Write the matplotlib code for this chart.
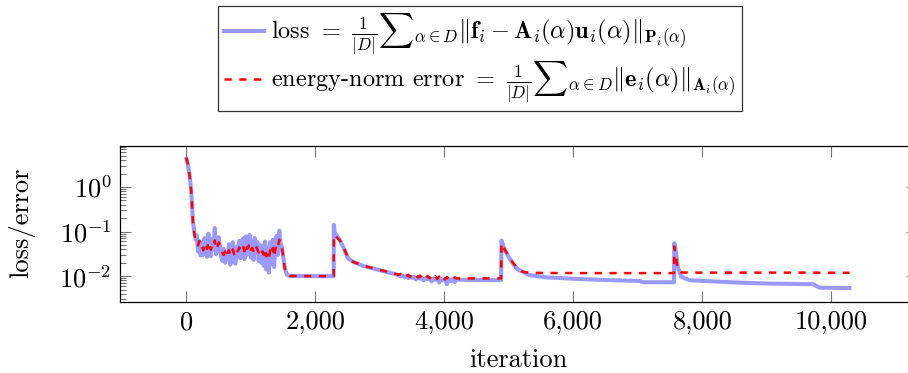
import matplotlib
matplotlib.use("Agg")
import matplotlib.pyplot as plt
from matplotlib.ticker import FixedLocator, FuncFormatter, LogLocator, NullFormatter

plt.rcParams['font.family'] = 'serif'
plt.rcParams['font.serif'] = ['cmr10']
plt.rcParams['mathtext.fontset'] = 'cm'
plt.rcParams['axes.formatter.use_mathtext'] = True
plt.rcParams['axes.unicode_minus'] = False

# training history
iters = [0, 25, 50, 75, 100, 125, 145,
         160, 180, 200, 220, 240, 260, 280, 300, 320, 340, 360, 380, 400, 420,
         440, 460, 480, 500, 520, 540, 560, 580, 600, 620, 640, 660, 680, 700,
         720, 740, 760, 780, 800, 820, 840, 860, 880, 900, 920, 940, 960, 980,
         1000, 1020, 1040, 1060, 1080, 1100, 1120, 1140, 1160, 1180, 1200, 1220,
         1240, 1260, 1280, 1300, 1320, 1340, 1360, 1380, 1400, 1420, 1440, 1460,
         1480, 1500, 1525, 1560, 1600, 2000, 2284,
         2286, 2300, 2377, 2440, 2506, 2583, 2740, 3000, 3256,
         3290, 3320, 3350, 3380, 3410, 3440, 3470, 3500, 3530, 3560, 3590, 3620,
         3650, 3680, 3710, 3740, 3770, 3800, 3830, 3860, 3890, 3920, 3950, 3980,
         4010, 4040, 4070, 4100, 4130, 4160, 4190,
         4250, 4880,
         4886, 4935, 5012, 5064, 5141, 5219, 5322, 5581, 6098, 6614, 7028, 7080, 7562,
         7566, 7586, 7622, 7674, 7803, 8010, 8527, 9043, 9715, 9790, 9830, 10284]

loss = [4.3, 3.0, 1.8, 0.8, 0.18, 0.09, 0.065,
        0.082, 0.036, 0.060, 0.029, 0.055, 0.030, 0.071, 0.045, 0.027, 0.090,
        0.033, 0.028, 0.068, 0.040, 0.120, 0.031, 0.038, 0.075, 0.047, 0.026,
        0.022, 0.041, 0.020, 0.033, 0.024, 0.052, 0.018, 0.036, 0.058, 0.021,
        0.019, 0.046, 0.027, 0.062, 0.025, 0.055, 0.070, 0.024, 0.078, 0.030,
        0.034, 0.085, 0.026, 0.060, 0.023, 0.072, 0.035, 0.058, 0.022, 0.050,
        0.020, 0.048, 0.017, 0.060, 0.014, 0.044, 0.012, 0.058, 0.019, 0.066,
        0.016, 0.062, 0.080, 0.030, 0.105, 0.055,
        0.045, 0.028, 0.015, 0.0108, 0.0101, 0.0100, 0.0100,
        0.142, 0.095, 0.065, 0.043, 0.025, 0.021, 0.017, 0.0136, 0.0109,
        0.0105, 0.0100, 0.0103, 0.0094, 0.0101, 0.0090, 0.0098, 0.0092, 0.0096,
        0.0084, 0.0094, 0.0088, 0.0093, 0.0080, 0.0091, 0.0086, 0.0090, 0.0076,
        0.0089, 0.0083, 0.0088, 0.0072, 0.0087, 0.0080, 0.0086, 0.0066, 0.0085,
        0.0078, 0.0085, 0.0074, 0.0084,
        0.0083, 0.0081,
        0.063, 0.039, 0.025, 0.019, 0.014, 0.0125, 0.0105, 0.0094, 0.0086,
        0.0081, 0.0078, 0.0073, 0.0073,
        0.055, 0.039, 0.016, 0.0097, 0.0081, 0.0078, 0.0072, 0.0068, 0.0066,
        0.0058, 0.0055, 0.0054]

err = [4.6, 3.1, 1.8, 0.8, 0.17, 0.085, 0.06,
       0.058, 0.049, 0.062, 0.044, 0.047, 0.038, 0.051, 0.055, 0.041, 0.060,
       0.046, 0.039, 0.053, 0.048, 0.063, 0.040, 0.045, 0.057, 0.050, 0.042,
       0.033, 0.030, 0.036, 0.028, 0.034, 0.038, 0.029, 0.032, 0.040, 0.031,
       0.027, 0.035, 0.037, 0.044, 0.038, 0.042, 0.049, 0.036, 0.052, 0.041,
       0.045, 0.056, 0.039, 0.043, 0.037, 0.050, 0.046, 0.040, 0.034, 0.039,
       0.032, 0.036, 0.030, 0.041, 0.028, 0.033, 0.025, 0.038, 0.031, 0.043,
       0.027, 0.040, 0.053, 0.046, 0.066, 0.051,
       0.045, 0.028, 0.015, 0.0108, 0.0101, 0.0100, 0.0100,
       0.084, 0.082, 0.064, 0.043, 0.026, 0.021, 0.0172, 0.0138, 0.0111,
       0.0108, 0.0112, 0.0101, 0.0110, 0.0099, 0.0108, 0.0096, 0.0106, 0.0094,
       0.0104, 0.0093, 0.0103, 0.0091, 0.0102, 0.0090, 0.0101, 0.0089, 0.0100,
       0.0087, 0.0099, 0.0086, 0.0098, 0.0085, 0.0097, 0.0084, 0.0096, 0.0085,
       0.0095, 0.0086, 0.0094, 0.0089,
       0.0089, 0.0089,
       0.055, 0.040, 0.026, 0.020, 0.0145, 0.0125, 0.0119, 0.0118, 0.0117,
       0.0117, 0.0117, 0.0117, 0.0117,
       0.046, 0.030, 0.014, 0.0121, 0.0120, 0.0120, 0.0120, 0.0120, 0.0120,
       0.0119, 0.0119, 0.0119]

xticks = [0, 2000, 4000, 6000, 8000, 10000]

loss_label = (r"loss $=\ \frac{1}{|D|}{\sum}_{\alpha\in D}\Vert\mathbf{f}_i - "
              r"\mathbf{A}_i(\alpha)\mathbf{u}_i(\alpha)\Vert_{\mathbf{P}_i(\alpha)}$")
err_label = (r"energy-norm error $=\ \frac{1}{|D|}{\sum}_{\alpha\in D}"
             r"\Vert\mathbf{e}_i(\alpha)\Vert_{\mathbf{A}_i(\alpha)}$")

FS = 19
W, H = 908, 373
fig = plt.figure(figsize=(W / 100, H / 100), dpi=100)
ax = fig.add_axes([120 / W, (H - 302) / H, 797 / W, 156 / H])

ax.plot(iters, loss, color=(0.6, 0.6, 1.0), lw=2.9, label=loss_label)
ax.plot(iters, err, color='red', lw=1.8, ls=(0, (2.9, 3.0)), label=err_label)

ax.set_yscale('log')
ax.set_xlim(-1030, 11330)
ax.set_ylim(10 ** -2.58, 10 ** 0.92)

ax.xaxis.set_major_locator(FixedLocator(xticks))
ax.xaxis.set_major_formatter(FuncFormatter(lambda v, p: f"{int(v):,}"))
ax.yaxis.set_major_locator(LogLocator(base=10, numticks=10))
ax.yaxis.set_minor_locator(LogLocator(base=10, subs=range(2, 10), numticks=10))
ax.yaxis.set_minor_formatter(NullFormatter())

ax.tick_params(which='both', direction='in', top=True, right=True,
               labelsize=FS, color='0.45', width=0.8)
ax.tick_params(which='major', length=7.8, pad=6)
ax.tick_params(which='minor', length=4.5)
for s in ax.spines.values():
    s.set_linewidth(0.9)

ax.set_xlabel('iteration', fontsize=FS)
ax.set_ylabel('loss/error', fontsize=FS)
ax.xaxis.set_label_coords(0.5, -0.295)
ax.yaxis.set_label_coords(-0.106, 0.505)

leg = fig.legend(loc='upper center', bbox_to_anchor=(480 / W, 1 - 6 / H),
                 fontsize=17.5, frameon=True, fancybox=False, edgecolor='black',
                 handlelength=1.65, handletextpad=0.3, borderaxespad=0,
                 labelspacing=0.1, borderpad=0.25)
leg.get_frame().set_linewidth(0.9)

fig.savefig('out.png', dpi=100)
